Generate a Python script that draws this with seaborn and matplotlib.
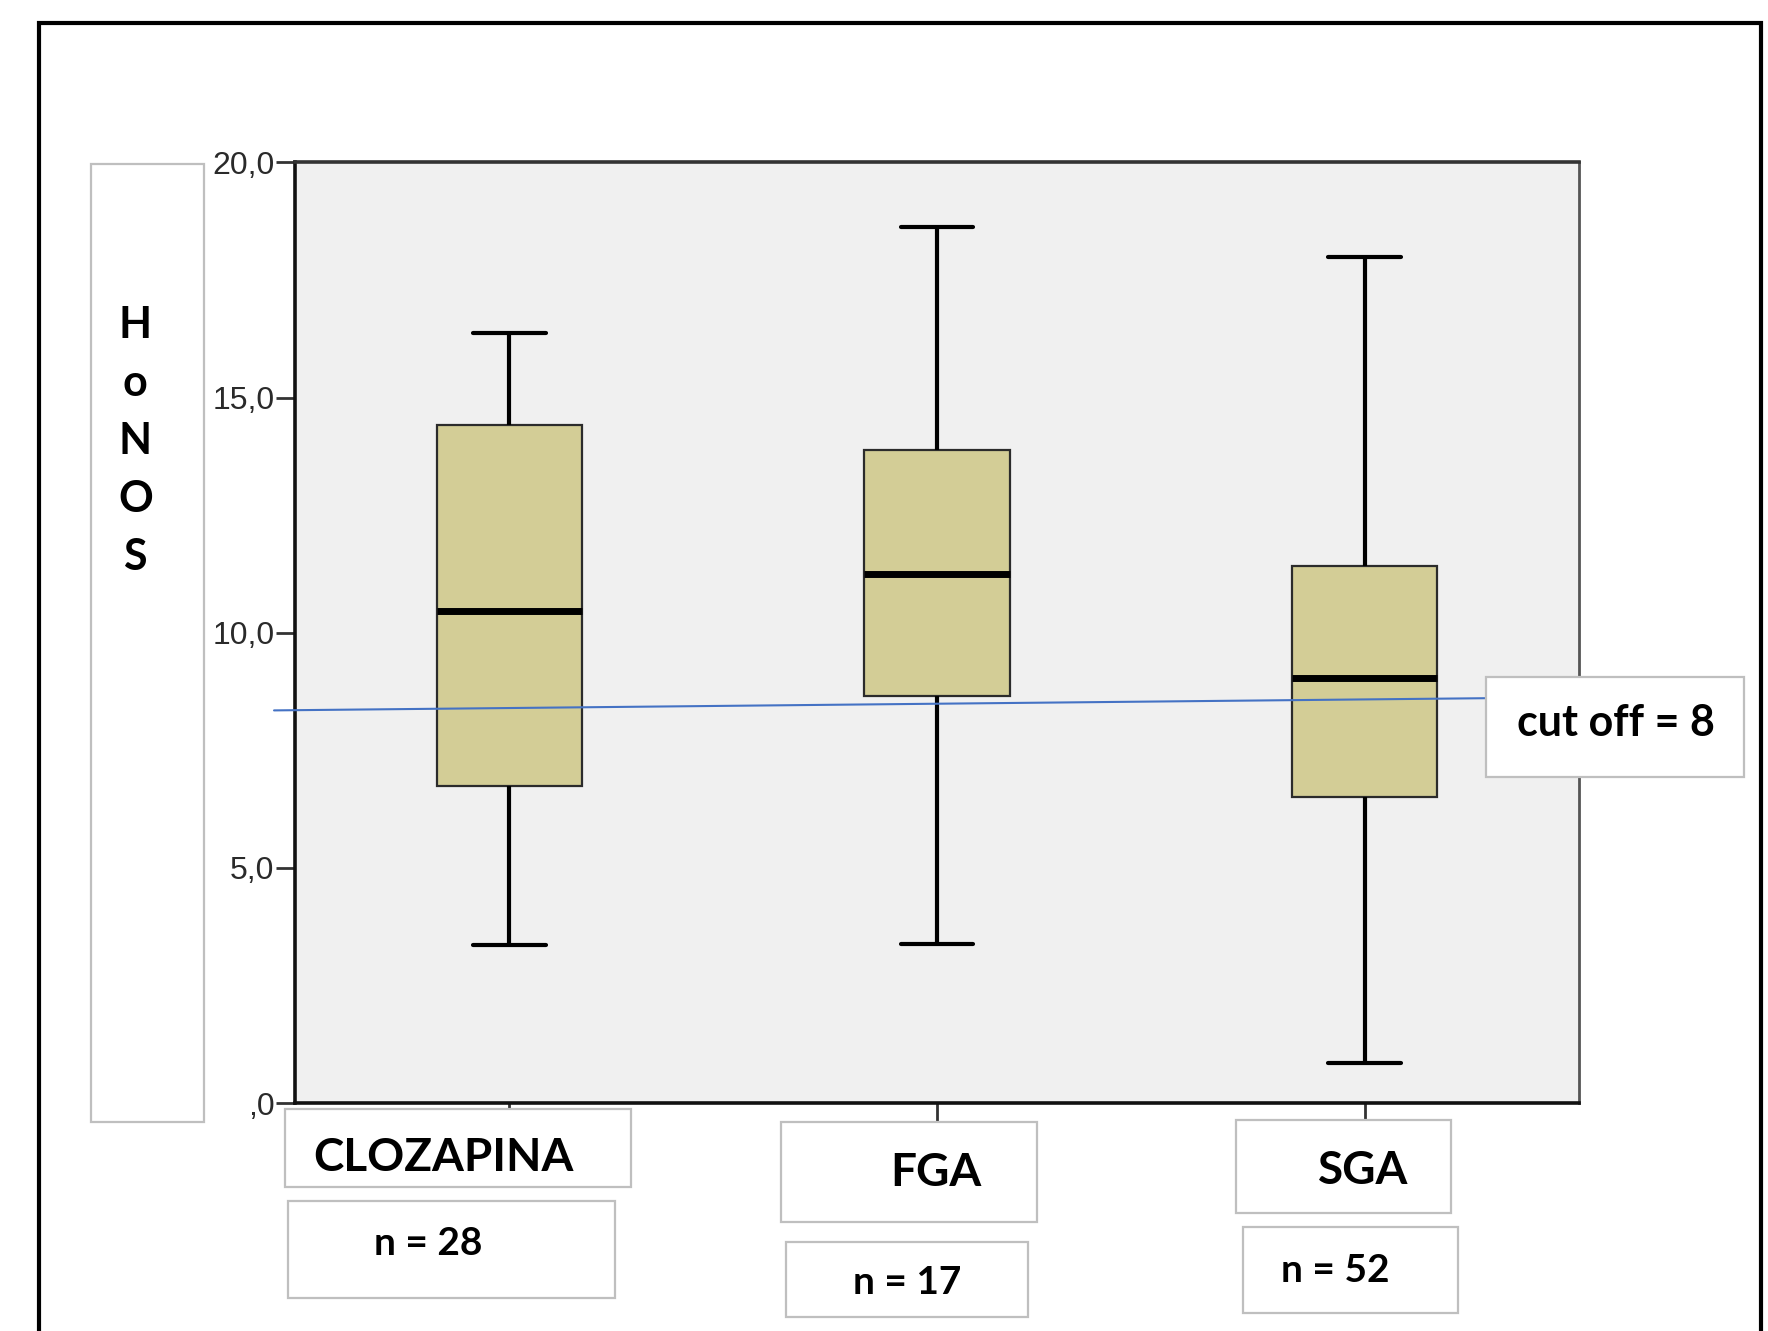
import numpy as np
import pandas as pd
import matplotlib
matplotlib.use("Agg")
import matplotlib.pyplot as plt
from matplotlib.patches import Rectangle
import seaborn as sns

# five-number summaries (min, Q1, median, Q3, max)
groups = ["CLOZAPINA", "FGA", "SGA"]
n_values = [28, 17, 52]
clozapina = [3.36, 6.74, 10.46, 14.41, 16.38]
fga = [3.38, 8.66, 11.25, 13.88, 18.63]
sga = [0.86, 6.50, 9.04, 11.41, 17.99]
yticks = [0, 5, 10, 15, 20]
ytick_labels = [",0", "5,0", "10,0", "15,0", "20,0"]
cutoff_label = "cut off = 8"
cutoff_x = [-0.55, 2.29]
cutoff_y = [8.35, 8.61]
ylabel = "HoNOS"

df = pd.DataFrame({
    "group": np.repeat(groups, 5),
    "score": clozapina + fga + sga,
})

sns.set_style("white")
plt.rcParams["font.family"] = ["Lato", "DejaVu Sans"]

W, H = 1568, 1180  # layout measured on the shrunk view


def fx(x):
    return x / W


def fy(y):
    return 1 - y / H


fig = plt.figure(figsize=(17.68, 13.31), dpi=100)
ax = fig.add_axes([fx(262), fy(978), fx(1400) - fx(262), fy(144) - fy(978)])
ax.set_facecolor("#f0f0f0")

sns.boxplot(data=df, x="group", y="score", order=groups, ax=ax,
            color="#d3cd96", saturation=1, width=0.34, whis=(0, 100),
            linecolor="#2b2b2b", linewidth=1.6,
            medianprops=dict(color="black", linewidth=5),
            whiskerprops=dict(color="black", linewidth=3),
            capprops=dict(color="black", linewidth=3))

ax.set_xlim(-0.5, 2.5)
ax.set_ylim(0, 20)
ax.set_yticks(yticks)
ax.set_yticklabels(ytick_labels, family=["Liberation Sans", "DejaVu Sans"],
                   fontsize=23, color="#2a2a2a")
ax.set_xticks(range(len(groups)))
ax.set_xticklabels([])
ax.set_xlabel("")
ax.set_ylabel("")
ax.tick_params(axis="both", direction="out", length=14, width=2,
               color="#333333", pad=1, left=True, bottom=True)

for side in ["left", "bottom"]:
    ax.spines[side].set_color("#111111")
    ax.spines[side].set_linewidth(2.6)
ax.spines["top"].set_color("#333333")
ax.spines["top"].set_linewidth(2.6)
ax.spines["right"].set_color("#555555")
ax.spines["right"].set_linewidth(2)

ax.plot(cutoff_x, cutoff_y, color="#4472c4", linewidth=1.5,
        clip_on=False, zorder=5)


def label_box(x0, y0, x1, y1, text=None, tx=None, ty=None, size=30):
    fig.add_artist(Rectangle((fx(x0), fy(y1)), fx(x1) - fx(x0), fy(y0) - fy(y1),
                             transform=fig.transFigure, facecolor="white",
                             edgecolor="#bfbfbf", linewidth=1.6, zorder=5))
    if text is not None:
        fig.text(fx(tx), fy(ty), text, ha="center", va="center",
                 fontsize=size, fontweight="bold", color="black", zorder=6)


# outer frame
fig.add_artist(Rectangle((fx(35), -0.05), fx(1562) - fx(35), fy(20) + 0.05,
                         transform=fig.transFigure, fill=False,
                         edgecolor="black", linewidth=3, zorder=4))

# y label box with stacked letters
label_box(81, 145, 181, 995)
for i, ch in enumerate(ylabel):
    fig.text(fx(120), fy(288 + 51.5 * i), ch, ha="center", va="center",
             fontsize=31, fontweight="bold", color="black", zorder=6)

# category and n boxes
cat_boxes = [(253, 983, 560, 1052, 393, 1027),
             (693, 995, 920, 1083, 830, 1040),
             (1096, 993, 1287, 1075, 1209, 1038)]
n_boxes = [(255, 1065, 545, 1151, 380, 1102),
           (697, 1101, 912, 1168, 805, 1137),
           (1102, 1088, 1293, 1164, 1184, 1126)]
for g, (x0, y0, x1, y1, tx, ty) in zip(groups, cat_boxes):
    label_box(x0, y0, x1, y1, g, tx, ty, size=33)
for n, (x0, y0, x1, y1, tx, ty) in zip(n_values, n_boxes):
    label_box(x0, y0, x1, y1, f"n = {n}", tx, ty, size=28)

label_box(1318, 600, 1547, 689, cutoff_label, 1433, 641, size=31)

fig.savefig("out.png", dpi=100, facecolor="white")
